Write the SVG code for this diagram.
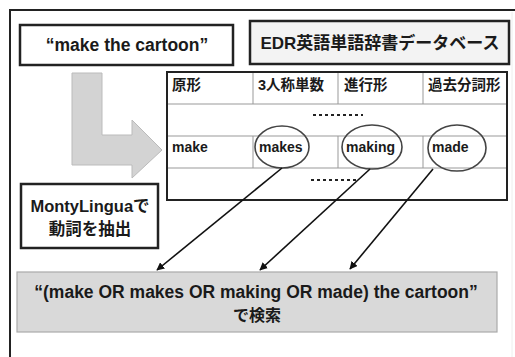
<svg xmlns="http://www.w3.org/2000/svg" width="515" height="357" viewBox="0 0 515 357">
<defs>
<style>
text{font-family:"Liberation Sans","Noto Sans CJK JP",sans-serif;font-weight:bold;fill:#1a1a1a}
.box{fill:#fff;stroke:#222;stroke-width:2.5}
.grid{stroke:#999;stroke-width:1;fill:none}
.oval{fill:none;stroke:#444;stroke-width:1.6}
.conn{stroke:#111;stroke-width:1.6;fill:none;marker-end:url(#ah)}
.dots{stroke:#222;stroke-width:2;stroke-dasharray:3 3;fill:none}
</style>
<marker id="ah" viewBox="0 0 10 10" refX="9" refY="5" markerWidth="5" markerHeight="5" orient="auto" markerUnits="strokeWidth">
<path d="M0,0 L10,5 L0,10 z" fill="#111"/>
</marker>
</defs>
<rect width="515" height="357" fill="#fff"/>
<path d="M10,357 V10 H515" fill="none" stroke="#222" stroke-width="2"/>
<line x1="512" y1="12" x2="512" y2="357" stroke="#eee" stroke-width="1"/>

<g id="query">
<rect class="box" x="20" y="25" width="213" height="40"/>
<text x="127" y="51" font-size="17.5" text-anchor="middle">“make the cartoon”</text>
</g>

<g id="edr">
<rect x="250" y="21" width="259" height="43" fill="#f3f3f3" stroke="#222" stroke-width="2.5"/>
<text x="380" y="49" font-size="17" text-anchor="middle">EDR英語単語辞書データベース</text>
</g>

<g id="bigarrow">
<path d="M72,73 H102 V135 H132 V120 L162,150 L132,178 V165 H72 Z" fill="#d3d3d3" stroke="#bbb" stroke-width="1"/>
</g>

<g id="table">
<rect x="167" y="72" width="340" height="128" fill="#fff"/>
<path class="grid" d="M167,104 H507 M167,136 H507 M167,168 H507 M253,72 V104 M338,72 V104 M423,72 V104 M253,136 V168 M338,136 V168 M423,136 V168"/>
<rect x="167" y="72" width="340" height="128" fill="none" stroke="#222" stroke-width="2"/>
<text x="172" y="90" font-size="14.5">原形</text>
<text x="258" y="90" font-size="14.5">3人称単数</text>
<text x="344" y="90" font-size="14.5">進行形</text>
<text x="428" y="90" font-size="14.5">過去分詞形</text>
<line class="dots" x1="313" y1="115" x2="363" y2="115"/>
<line class="dots" x1="311" y1="180" x2="357" y2="180"/>
<text x="172" y="152" font-size="14">make</text>
<text x="259" y="152" font-size="14">makes</text>
<text x="346" y="152" font-size="14">making</text>
<text x="432" y="152" font-size="14">made</text>
<ellipse class="oval" cx="282" cy="147" rx="27" ry="21"/>
<ellipse class="oval" cx="372" cy="147" rx="30" ry="22"/>
<ellipse class="oval" cx="457" cy="148" rx="29" ry="23"/>
</g>

<g id="monty">
<rect class="box" x="21" y="184" width="137" height="64"/>
<text x="90" y="212" font-size="16.5" text-anchor="middle">MontyLinguaで</text>
<text x="90" y="235" font-size="16.5" text-anchor="middle">動詞を抽出</text>
</g>

<g id="result">
<rect x="17" y="272" width="480" height="60" fill="#d9d9d9" stroke="#aaa" stroke-width="1.2"/>
<text x="256" y="298" font-size="17.5" text-anchor="middle">“(make OR makes OR making OR made) the cartoon”</text>
<text x="257" y="321" font-size="16" text-anchor="middle">で検索</text>
</g>

<g id="connectors">
<line class="conn" x1="282" y1="168" x2="157" y2="270"/>
<line class="conn" x1="370" y1="169" x2="260" y2="270"/>
<line class="conn" x1="433" y1="169" x2="350" y2="269"/>
</g>
</svg>
